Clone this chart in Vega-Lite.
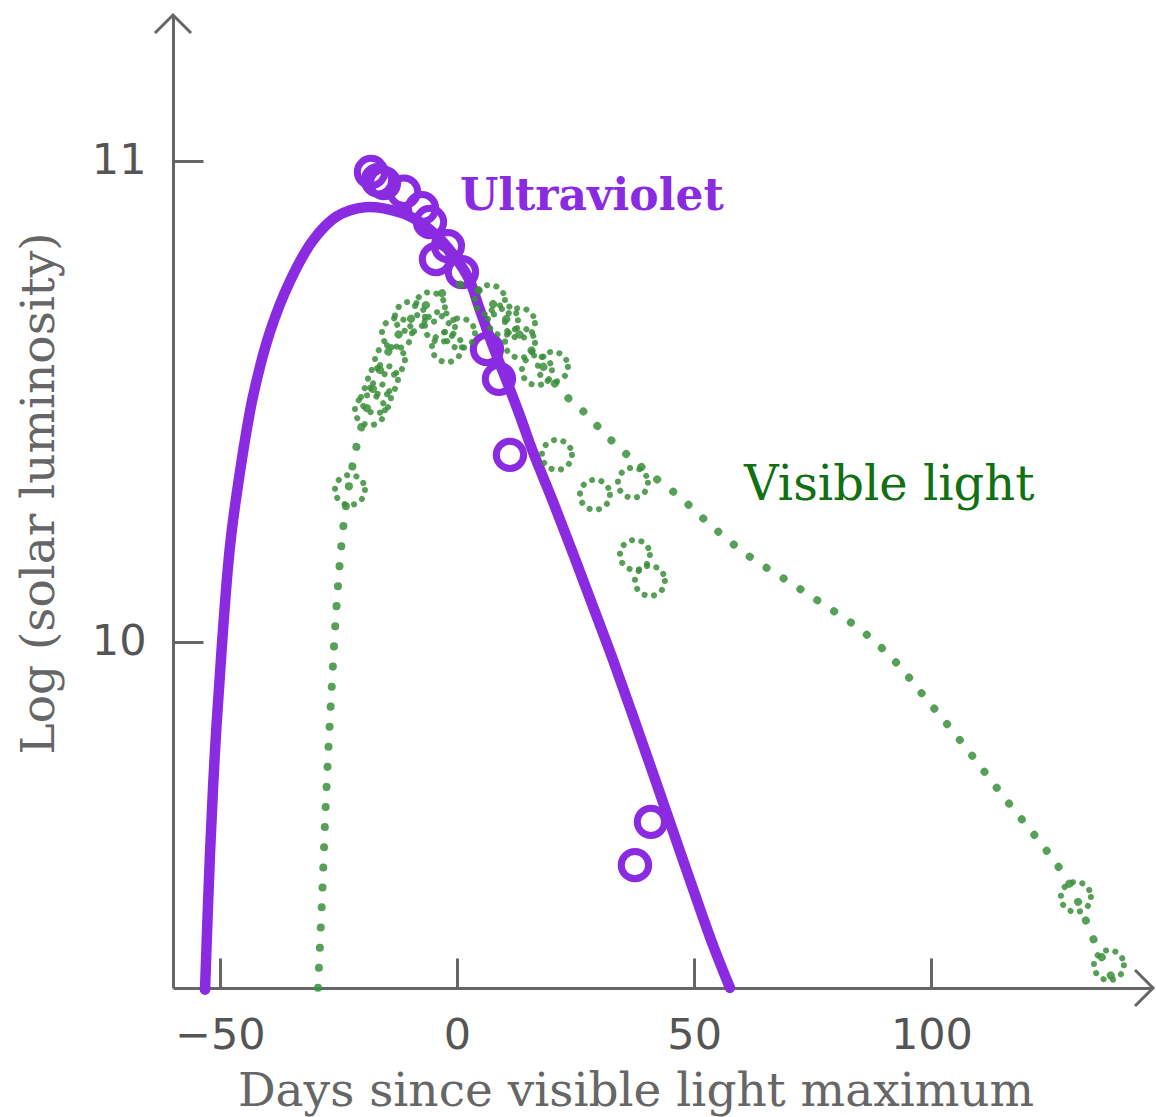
{
  "$schema": "https://vega.github.io/schema/vega-lite/v6.json",
  "width": 980,
  "height": 973,
  "autosize": {"type": "none"},
  "padding": {"left": 173, "top": 15, "right": 3, "bottom": 129},
  "background": "white",
  "config": {"view": {"stroke": null}, "axis": {"grid": false}},
  "datasets": {
    "uvline": [
      {"x": -53.1, "y": 9.277}, {"x": -52.05, "y": 9.561}, {"x": -51.0, "y": 9.773},
      {"x": -49.6, "y": 9.985}, {"x": -47.85, "y": 10.198}, {"x": -45.7, "y": 10.356},
      {"x": -43.0, "y": 10.51}, {"x": -39.4, "y": 10.645}, {"x": -35.2, "y": 10.75},
      {"x": -30.35, "y": 10.835}, {"x": -25.3, "y": 10.885}, {"x": -19.4, "y": 10.904},
      {"x": -12.0, "y": 10.893}, {"x": -7.8, "y": 10.873}, {"x": -3.58, "y": 10.838},
      {"x": 0.0, "y": 10.795}, {"x": 2.6, "y": 10.753}, {"x": 4.85, "y": 10.69},
      {"x": 7.59, "y": 10.615}, {"x": 10.54, "y": 10.541}, {"x": 13.28, "y": 10.47},
      {"x": 16.02, "y": 10.395}, {"x": 20.23, "y": 10.292}, {"x": 24.45, "y": 10.184},
      {"x": 28.66, "y": 10.074}, {"x": 32.88, "y": 9.963}, {"x": 37.09, "y": 9.846},
      {"x": 41.31, "y": 9.727}, {"x": 45.52, "y": 9.607}, {"x": 49.74, "y": 9.487},
      {"x": 53.95, "y": 9.37}, {"x": 57.53, "y": 9.281}
    ],
    "uvobs": [
      {"x": -18.12, "y": 10.977}, {"x": -16.65, "y": 10.96}, {"x": -15.38, "y": 10.954},
      {"x": -11.17, "y": 10.936}, {"x": -7.38, "y": 10.902}, {"x": -5.69, "y": 10.873},
      {"x": -1.9, "y": 10.823}, {"x": -4.43, "y": 10.796}, {"x": 1.05, "y": 10.769},
      {"x": 6.32, "y": 10.609}, {"x": 8.85, "y": 10.547}, {"x": 11.17, "y": 10.389},
      {"x": 40.88, "y": 9.626}, {"x": 37.51, "y": 9.536}
    ],
    "visline": [
      {"x": -29.29, "y": 9.281}, {"x": -28.45, "y": 9.464}, {"x": -27.61, "y": 9.672},
      {"x": -26.55, "y": 9.879}, {"x": -25.29, "y": 10.087}, {"x": -24.03, "y": 10.233},
      {"x": -22.55, "y": 10.337}, {"x": -20.86, "y": 10.42}, {"x": -18.76, "y": 10.493},
      {"x": -16.23, "y": 10.565}, {"x": -13.07, "y": 10.628}, {"x": -9.48, "y": 10.674},
      {"x": -5.69, "y": 10.707}, {"x": -1.9, "y": 10.732}, {"x": 1.69, "y": 10.744},
      {"x": 5.27, "y": 10.726}, {"x": 9.06, "y": 10.686}, {"x": 13.28, "y": 10.638},
      {"x": 17.49, "y": 10.582}, {"x": 21.71, "y": 10.524}, {"x": 26.55, "y": 10.48},
      {"x": 32.88, "y": 10.416}, {"x": 39.62, "y": 10.358}, {"x": 47.0, "y": 10.301},
      {"x": 54.16, "y": 10.237}, {"x": 61.75, "y": 10.177}, {"x": 69.34, "y": 10.129},
      {"x": 77.13, "y": 10.079}, {"x": 85.14, "y": 10.025}, {"x": 92.31, "y": 9.96},
      {"x": 98.21, "y": 9.89}, {"x": 106.01, "y": 9.796}, {"x": 116.12, "y": 9.667},
      {"x": 124.13, "y": 9.568}, {"x": 129.19, "y": 9.495}, {"x": 134.88, "y": 9.366},
      {"x": 139.09, "y": 9.281}
    ],
    "visobs": [
      {"x": -22.55, "y": 10.316}, {"x": -18.34, "y": 10.482}, {"x": -17.07, "y": 10.507},
      {"x": -15.6, "y": 10.545}, {"x": -14.12, "y": 10.586}, {"x": -12.64, "y": 10.642},
      {"x": -9.91, "y": 10.676}, {"x": -5.69, "y": 10.696}, {"x": -3.58, "y": 10.655},
      {"x": -2.11, "y": 10.613}, {"x": 0.63, "y": 10.642}, {"x": 6.95, "y": 10.711},
      {"x": 9.69, "y": 10.669}, {"x": 13.28, "y": 10.663}, {"x": 13.28, "y": 10.622},
      {"x": 16.86, "y": 10.565}, {"x": 20.23, "y": 10.572}, {"x": 21.07, "y": 10.389},
      {"x": 29.08, "y": 10.306}, {"x": 37.09, "y": 10.331}, {"x": 37.51, "y": 10.181},
      {"x": 40.67, "y": 10.127}, {"x": 130.45, "y": 9.47}, {"x": 137.41, "y": 9.328}
    ]
  },
  "encoding": {
    "x": {
      "field": "x", "type": "quantitative",
      "scale": {"domain": [-59.85, 146.7], "nice": false, "zero": false},
      "axis": {
        "values": [-50, 0, 50, 100],
        "title": "Days since visible light maximum",
        "domainColor": "#666666", "domainWidth": 3,
        "tickColor": "#666666", "tickWidth": 3, "tickSize": -30,
        "labelFont": "DejaVu Sans", "labelFontSize": 43, "labelColor": "#555555",
        "labelPadding": 90, "labelBaseline": "alphabetic", "labelFlush": false, "labelOverlap": false,
        "titleFont": "DejaVu Serif", "titleFontSize": 47, "titleFontWeight": "normal", "titleColor": "#666666",
        "titleX": 462.5, "titleY": 117, "titleBaseline": "alphabetic", "titleAlign": "center", "titleAnchor": null
      }
    },
    "y": {
      "field": "y", "type": "quantitative",
      "scale": {"domain": [9.2806, 11.3035], "nice": false, "zero": false},
      "axis": {
        "values": [10, 11],
        "title": "Log (solar luminosity)",
        "domainColor": "#666666", "domainWidth": 3,
        "tickColor": "#666666", "tickWidth": 3, "tickSize": -30,
        "labelFont": "DejaVu Sans", "labelFontSize": 43, "labelColor": "#555555",
        "labelPadding": 57, "labelBaseline": "middle", "labelFlush": false, "labelOverlap": false,
        "titleFont": "DejaVu Serif", "titleFontSize": 47, "titleFontWeight": "normal", "titleColor": "#666666",
        "titleX": -120, "titleY": 478, "titleAngle": -90, "titleBaseline": "alphabetic", "titleAlign": "center", "titleAnchor": null
      }
    }
  },
  "layer": [
    {
      "data": {"name": "uvline"},
      "mark": {"type": "line", "color": "#8a2be2", "strokeWidth": 10.5, "interpolate": "catmull-rom", "strokeCap": "round"}
    },
    {
      "data": {"name": "uvobs"},
      "mark": {"type": "point", "shape": "circle", "filled": false, "color": "#8a2be2", "strokeWidth": 7, "size": 750, "opacity": 1}
    },
    {
      "data": {"name": "visline"},
      "mark": {"type": "line", "color": "#3a8f3a", "opacity": 0.85, "strokeWidth": 8, "strokeDash": [0.1, 20], "strokeCap": "round", "interpolate": "catmull-rom"}
    },
    {
      "data": {"name": "visobs"},
      "mark": {"type": "point", "shape": "circle", "filled": false, "color": "#3a8f3a", "opacity": 0.85, "strokeWidth": 6, "strokeDash": [0.1, 9.5], "strokeCap": "round", "size": 900}
    },
    {
      "data": {"values": [{"x": 0.63, "y": 10.898, "label": "Ultraviolet"}]},
      "mark": {"type": "text", "align": "left", "baseline": "alphabetic", "font": "DejaVu Serif", "fontSize": 44, "fontWeight": "bold", "color": "#8a2be2"},
      "encoding": {"text": {"field": "label"}}
    },
    {
      "data": {"values": [{"x": 60.5, "y": 10.295, "label": "Visible light"}]},
      "mark": {"type": "text", "align": "left", "baseline": "alphabetic", "font": "DejaVu Serif", "fontSize": 48, "color": "#117011"},
      "encoding": {"text": {"field": "label"}}
    },
    {
      "data": {"values": [{"x": -59.85, "y": 11.3035}]},
      "mark": {"type": "point", "shape": "M-1,1L0,0L1,1", "filled": false, "color": "#666666", "strokeWidth": 3, "size": 1296, "opacity": 1}
    },
    {
      "data": {"values": [{"x": 146.7, "y": 9.2806}]},
      "mark": {"type": "point", "shape": "M-1,-1L0,0L-1,1", "filled": false, "color": "#666666", "strokeWidth": 3, "size": 1296, "opacity": 1}
    }
  ]
}
